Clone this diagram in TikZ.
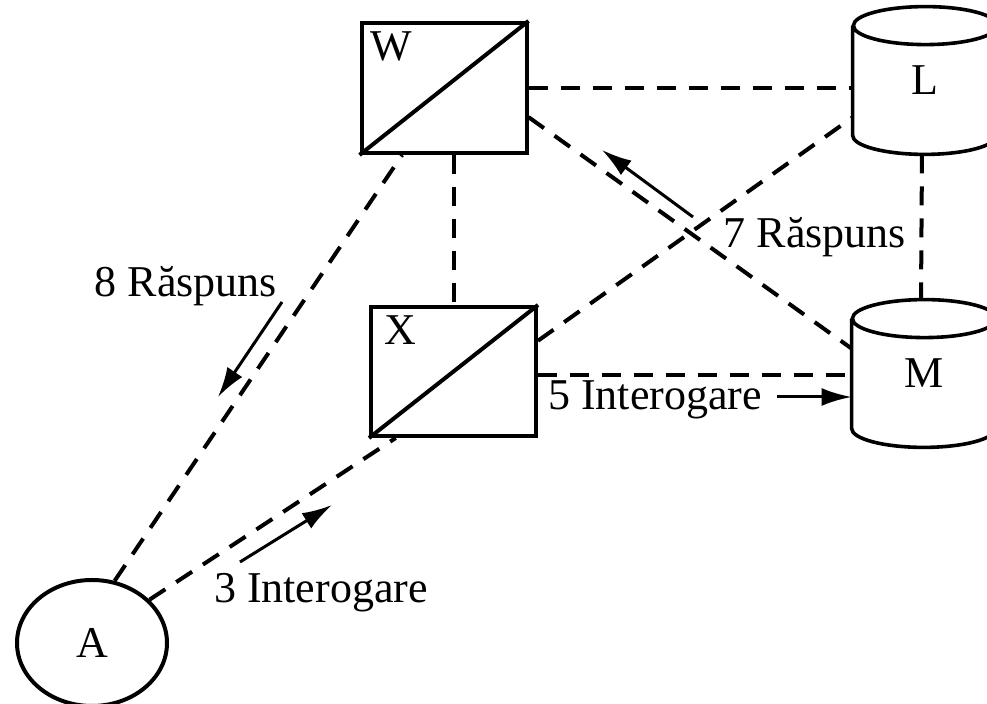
\documentclass[tikz,border=0pt]{standalone}
\usepackage{fontspec}
\setmainfont{Liberation Serif}
\usetikzlibrary{shapes.geometric,arrows.meta,calc,positioning}
\newcommand{\mypx}{0.5pt}
\tikzset{
    boxsty/.style={draw,line width=2pt,rectangle,minimum width=165*\mypx,minimum height=130*\mypx,inner sep=0pt},
    dbsty/.style={rectangle,minimum width=144*\mypx,minimum height=147*\mypx,inner sep=0pt},
    dblinesty/.style={line width=1.8pt},
    usrsty/.style={draw,line width=2pt,ellipse,minimum width=150*\mypx,minimum height=126*\mypx,inner sep=0pt},
    diagsty/.style={line width=2pt},
    linksty/.style={line width=2pt,dash pattern=on 9.5pt off 6.5pt},
    msgsty/.style={line width=1.5pt,-{Latex[length=15pt,width=9pt]}},
    lblsty/.style={anchor=base,inner sep=0pt},
}

\begin{document}
\begin{tikzpicture}[x=\mypx,y=-\mypx,font=\fontsize{22}{26}\selectfont]
\useasboundingbox (0,0) rectangle (987,704);

% boxes, databases, user
\node[boxsty] (W) at (444,88) {};
\node[boxsty,minimum height=129*\mypx] (X) at (453.5,371.5) {};
\node[dbsty] (L) at (925,80.5) {L};
\node[dbsty] (M) at (924,373.5) {M};
\node[usrsty] (A) at (92,643) {A};

\draw[diagsty] (W.south west) -- (W.north east);
\draw[diagsty] (X.south west) -- (X.north east);
\node[lblsty,anchor=base west] (Wl) at ($(W.north west)+(11,40)$) {W};
\node[lblsty,anchor=base west] (Xl) at ($(X.north west)+(15,40)$) {X};

% cylinder outlines round L and M
\foreach \db in {L,M}
  \draw[dblinesty] ([yshift=-9.5pt]\db.north west)
    -- ([yshift=9.5pt]\db.south west)
    arc[start angle=180,end angle=360,x radius=36pt,y radius=9.5pt]
    -- ([yshift=-9.5pt]\db.north east)
    arc[start angle=0,end angle=360,x radius=36pt,y radius=9.5pt];

% links
\draw[linksty] (W.east) -- (W.east -| L.180);
\draw[linksty] (W.south -| X.north) -- (X.north);
\draw[linksty] (W.-19.5) -- (M.161);
\draw[linksty] (X.20) -- (L.207);
\draw[linksty] ([yshift=-2pt]X.east) -- ([yshift=-2pt]X.east -| M.180);
\draw[linksty] ([xshift=-1.5pt]L.270) -- ([xshift=-1.5pt]M.90);
\draw[linksty] (A.70) -- (W.238);
\draw[linksty] (A.37) -- (X.229);

% messages
\node[lblsty] (r8) at (186,297) {8 Răspuns};
\node[lblsty] (r7) at (815,248) {7 Răspuns};
\node[lblsty] (i5) at (655,410) {5 Interogare};
\node[lblsty] (i3) at (321,603) {3 Interogare};

\coordinate (r8a) at (282,302);
\coordinate (r8b) at (218,397);
\coordinate (r7a) at (693,217);
\coordinate (r7b) at (602,150);
\coordinate (i5a) at (777,397);
\coordinate (i3a) at (240,562);
\coordinate (i3b) at (332,505);
\draw[msgsty] (r8a) -- (r8b);
\draw[msgsty] (r7a) -- (r7b);
\draw[msgsty] (i5a) -- (i5a -| M.180);
\draw[msgsty] (i3a) -- (i3b);
\end{tikzpicture}
\end{document}
